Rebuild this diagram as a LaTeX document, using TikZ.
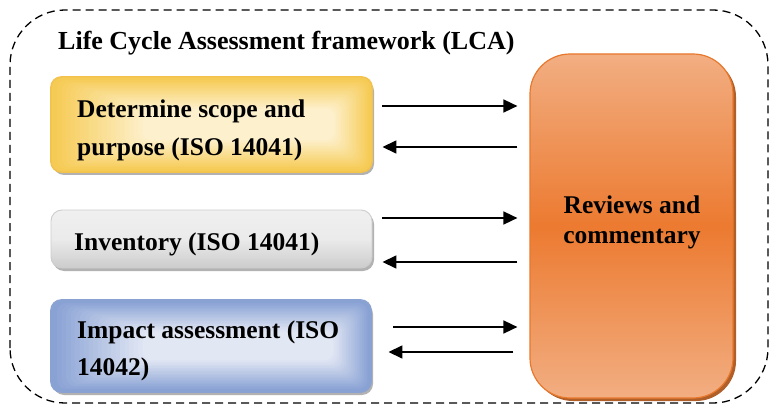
\documentclass[tikz,border=0pt]{standalone}
\usepackage{fontspec}
\setmainfont{Liberation Serif}
\usetikzlibrary{shadows,calc,arrows.meta}
\definecolor{yelA}{HTML}{F6CB55}
\definecolor{yelB}{HTML}{FDF0CC}
\definecolor{yelD}{HTML}{F2C24C}
\definecolor{gryA}{HTML}{F0F0F0}
\definecolor{gryB}{HTML}{CCCCCC}
\definecolor{gryD}{HTML}{CDCDCD}
\definecolor{bluA}{HTML}{89A2D4}
\definecolor{bluB}{HTML}{E2E7F4}
\definecolor{bluD}{HTML}{8AA2D2}
\definecolor{orA}{HTML}{F2AE82}
\definecolor{orB}{HTML}{EC7A30}
\definecolor{orD}{HTML}{E8782C}
\definecolor{orS}{HTML}{A84E12}
% #1 node, #2 edge colour, #3 light colour, #4 left step, #5 right step, #6 vertical step
\newcommand\myglow[6]{%
  \foreach \i in {1,...,20}{%
    \pgfmathtruncatemacro\pc{\i*100/20}%
    \fill[#3!\pc!#2, rounded corners=9pt]
      ($(#1.south west)+(2+\i*#4, 2+\i*#6)$) rectangle ($(#1.north east)+(-2-\i*#5, -2-\i*#6)$);
  }%
}
\begin{document}
\begin{tikzpicture}[x=1pt,y=1pt,
  frame/.style={line width=1.3pt, dash pattern=on 8pt off 5pt, rounded corners=55pt},
  box/.style={rounded corners=11pt, minimum width=321pt, inner sep=0pt, line width=0.9pt,
    drop shadow={shadow xshift=2pt,shadow yshift=-3pt,fill=black,opacity=0.3}},
  lbl/.style={font=\bfseries\fontsize{25.5}{38}\selectfont, inner sep=0pt, align=left},
  arr/.style={line width=1.6pt, -{Triangle[length=14pt,width=13pt]}},
  ]
\useasboundingbox (0,0) rectangle (770,410);
\draw[frame] (10,7) rectangle (768,400);
\node[lbl, anchor=base west, font=\bfseries\fontsize{26}{30}\selectfont] (title) at (58,360) {Life Cycle Assessment framework (LCA)};

% yellow box
\node[box, minimum height=95pt, draw=yelD, fill=yelA] (scope) at (211.5,285.5) {};
\myglow{scope}{yelA}{yelB}{4.5}{1.8}{1.5}
\draw[yelD, line width=0.9pt, rounded corners=11pt] (scope.south west) rectangle (scope.north east);
\node[lbl, anchor=north west] (scopet) at (77,310.2) {Determine scope and\\purpose (ISO 14041)};

% gray box
\node[box, minimum height=58pt, draw=gryD, top color=gryA, bottom color=gryB, middle color=gryA!85!gryB] (inv) at (211.5,171) {};
\node[lbl, anchor=base west] (invt) at (74,160) {Inventory (ISO 14041)};

% blue box
\node[box, minimum height=92pt, minimum width=320pt, draw=bluD, fill=bluA] (imp) at (211,64) {};
\myglow{imp}{bluA}{bluB}{4.5}{1.8}{1.5}
\draw[bluD, line width=0.9pt, rounded corners=11pt] (imp.south west) rectangle (imp.north east);
\node[lbl, anchor=north west, font=\bfseries\fontsize{25.5}{37}\selectfont] (impt) at (77,89.7) {Impact assessment (ISO\\14042)};

% orange box
\node[rounded corners=40pt, minimum width=203pt, minimum height=344pt, inner sep=0pt, draw=orD, line width=1.2pt,
  top color=orA, bottom color=orA, middle color=orB,
  drop shadow={shadow xshift=3pt,shadow yshift=-3pt,fill=orS,opacity=0.9}] (rev) at (631.5,184) {};
\node[lbl, align=center, anchor=north, font=\bfseries\fontsize{25.5}{30}\selectfont] (revt) at (632,214.2) {Reviews and\\commentary};

\coordinate (p1) at ($(scope.east)+(10,18.5)$);
\coordinate (q1) at ($(p1 -| rev.west)+(-12,0)$);
\coordinate (p2) at ($(scope.east)+(10,-22.5)$);
\coordinate (q2) at ($(p2 -| rev.west)+(-12,0)$);
\draw[arr] (p1) -- (q1);
\draw[arr] (q2) -- (p2);

\coordinate (p3) at ($(inv.east)+(10,21)$);
\coordinate (q3) at ($(p3 -| rev.west)+(-12,0)$);
\coordinate (p4) at ($(inv.east)+(10,-23)$);
\coordinate (q4) at ($(p4 -| rev.west)+(-12,0)$);
\draw[arr] (p3) -- (q3);
\draw[arr] (q4) -- (p4);

\coordinate (p5) at ($(imp.east)+(22,19)$);
\coordinate (q5) at ($(p5 -| rev.west)+(-12,0)$);
\coordinate (p6) at ($(imp.east)+(17,-6)$);
\coordinate (q6) at ($(p6 -| rev.west)+(-16,0)$);
\draw[arr] (p5) -- (q5);
\draw[arr] (q6) -- (p6);
\end{tikzpicture}
\end{document}
